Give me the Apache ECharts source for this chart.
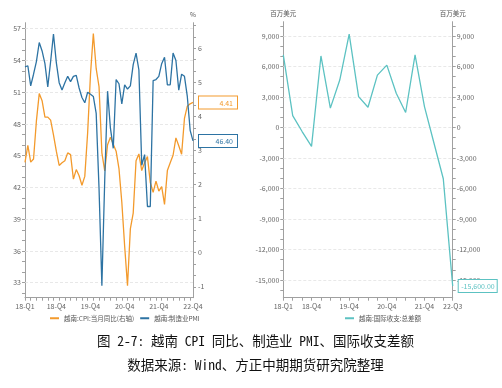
<!DOCTYPE html>
<html><head><meta charset="utf-8">
<script src="https://cdn.jsdelivr.net/npm/echarts@6/dist/echarts.min.js"></script>
<style>html,body{margin:0;padding:0;background:#fff}#c{width:502px;height:388px}</style>
</head><body><div id="c"></div>
<script>
// ---------- data ----------
const monthCats = [];
for (let y = 2018; y <= 2022; y++) for (let m = 1; m <= 12; m++) monthCats.push(y + '-' + String(m).padStart(2, '0'));
const leftTickIdx  = [0, 11, 23, 35, 47, 59];
const leftTickText = ['18-Q1', '18-Q4', '19-Q4', '20-Q4', '21-Q4', '22-Q4'];

const pmi = [53.4,53.5,51.6,52.7,53.9,55.7,54.9,53.7,51.5,53.9,56.5,53.8,
             51.9,51.2,51.9,52.5,52.0,52.5,52.6,51.4,50.5,50.0,51.0,50.8,
             50.6,49.0,41.9,32.7,42.7,51.1,47.6,45.7,52.2,51.8,49.9,51.7,
             51.3,51.6,53.6,54.7,53.1,44.1,45.1,40.2,40.2,52.1,52.2,52.5,
             53.7,54.3,51.7,51.7,54.7,54.0,51.2,52.7,52.5,50.6,47.4,46.4];
const cpi = [2.65,3.15,2.66,2.75,3.86,4.67,4.46,3.98,3.98,3.89,3.46,2.98,
             2.56,2.64,2.70,2.93,2.88,2.16,2.44,2.26,1.98,2.24,3.52,5.23,
             6.43,5.40,4.87,2.93,2.40,3.17,3.39,3.18,2.98,2.47,1.48,0.19,
             -0.97,0.70,1.16,2.70,2.90,2.41,2.64,2.82,2.06,1.77,2.10,1.81,
             1.94,1.42,2.41,2.64,2.86,3.37,3.14,2.89,3.94,4.30,4.37,4.41];

const quarterCats = ['18-Q1','18-Q2','18-Q3','18-Q4','19-Q1','19-Q2','19-Q3','19-Q4',
                     '20-Q1','20-Q2','20-Q3','20-Q4','21-Q1','21-Q2','21-Q3','21-Q4',
                     '22-Q1','22-Q2','22-Q3'];
const rightTickText = ['18-Q1', '18-Q4', '19-Q4', '20-Q4', '21-Q4', '22-Q3'];
const bop = [7130, 1170, -400, -1860, 7030, 1900, 4660, 9170, 3030, 1990,
             5150, 6130, 3360, 1470, 7130, 2050, -1500, -5040, -15600];

const pmiLabels = [33, 36, 39, 42, 45, 48, 51, 54, 57];
const cpiLabels = [-1, 0, 1, 2, 3, 4, 5, 6];
const bopLabels = [-15000, -12000, -9000, -6000, -3000, 0, 3000, 6000, 9000];

const names = ['越南:CPI:当月同比(右轴)', '越南:制造业PMI', '越南:国际收支:总差额'];
const captions = ['图 2-7: 越南 CPI 同比、制造业 PMI、国际收支差额', '数据来源: Wind、方正中期期货研究院整理'];

// ---------- helpers ----------
function subTicks(labels, parts, lo, hi) {
  const step = (labels[1] - labels[0]) / parts, out = [];
  for (let v = labels[0] - step * parts; v <= labels[labels.length - 1] + step * parts + 1e-9; v += step) {
    if (v >= lo - 1e-9 && v <= hi + 1e-9) out.push(+v.toFixed(6));
  }
  return out;
}
const ORANGE = '#f39a2c', BLUE = '#2d73a3', TEAL = '#5cc2c2';
const AX = '#a0a0a0', LBL = '#666';
const FONT = "'Noto Sans CJK SC', 'Noto Sans', sans-serif";
const CAPFONT = "'Noto Sans Mono CJK SC', 'Liberation Mono', 'Noto Sans CJK SC', monospace";

const PMI_MIN = 31.58, PMI_MAX = 57.57, CPI_MIN = -1.32, CPI_MAX = 6.75;
const BOP_MIN = -16740, BOP_MAX = 10400;

function yAx(grid, pos, min, max, labels, ticks, fmt, margin, name) {
  return {
    type: 'value', gridIndex: grid, position: pos, min: min, max: max,
    name: name || '', nameLocation: 'end', nameGap: 5,
    nameTextStyle: { fontSize: 6.5, color: '#555', fontFamily: FONT },
    axisLine: { show: true, onZero: false, lineStyle: { color: AX, width: 1 } },
    axisTick: { show: true, length: 3, customValues: ticks, lineStyle: { color: AX } },
    axisLabel: { customValues: labels, fontSize: 7, color: LBL, margin: margin, formatter: fmt, fontFamily: FONT },
    splitLine: { show: false }
  };
}
function gridLines(vals) {
  return {
    silent: true, symbol: ['none', 'none'], label: { show: false }, z: 1, animation: false,
    lineStyle: { type: [3, 2], color: '#e2e2e2', width: 0.8 },
    emphasis: { disabled: true },
    data: vals.map(v => ({ yAxis: v }))
  };
}
function endLab(color, fmt, w, pad) {
  return {
    show: true, distance: 6, padding: pad, backgroundColor: '#fff',
    borderColor: color, borderWidth: 1,
    formatter: p => '{v|' + fmt(p.value) + '}',
    rich: { v: { width: w, align: 'right', fontSize: 7, color: color, fontFamily: FONT, lineHeight: 9 } }
  };
}

const chart = echarts.init(document.getElementById('c'), null, { renderer: 'canvas' });
chart.setOption({
  backgroundColor: '#fff',
  animation: false,
  textStyle: { fontFamily: FONT },
  title: [
    { text: captions[0], left: 255.5, top: 334, textAlign: 'center', padding: 0,
      textStyle: { fontSize: 13.5, fontWeight: 'normal', color: '#111', fontFamily: CAPFONT } },
    { text: captions[1], left: 255.5, top: 358, textAlign: 'center', padding: 0,
      textStyle: { fontSize: 13.5, fontWeight: 'normal', color: '#111', fontFamily: CAPFONT } }
  ],
  legend: [
    { data: [names[0], names[1]], left: 50, top: 315, icon: 'rect', itemWidth: 9, itemHeight: 2,
      itemGap: 6, padding: 0, textStyle: { fontSize: 6.5, color: '#555', fontFamily: FONT } },
    { data: [names[2]], left: 345, top: 315, icon: 'rect', itemWidth: 9, itemHeight: 2,
      padding: 0, textStyle: { fontSize: 6.5, color: '#555', fontFamily: FONT } }
  ],
  grid: [
    { left: 25, right: 309, top: 22.7, bottom: 90.3, containLabel: false },
    { left: 283.3, right: 49.3, top: 21.7, bottom: 90.3, containLabel: false }
  ],
  xAxis: [
    { type: 'category', gridIndex: 0, data: monthCats, boundaryGap: false, position: 'bottom',
      axisLine: { onZero: false, lineStyle: { color: AX } },
      axisTick: { interval: 1, length: 3, lineStyle: { color: AX } },
      axisLabel: { interval: (i) => leftTickIdx.indexOf(i) >= 0,
                   formatter: (v, i) => leftTickText[leftTickIdx.indexOf(i)],
                   fontSize: 7, color: LBL, margin: 5, fontFamily: FONT } },
    { type: 'category', gridIndex: 1, data: quarterCats, boundaryGap: false, position: 'bottom',
      axisLine: { onZero: false, lineStyle: { color: AX } },
      axisTick: { interval: 0, length: 3, lineStyle: { color: AX } },
      axisLabel: { interval: (i, v) => rightTickText.indexOf(v) >= 0,
                   fontSize: 7, color: LBL, margin: 5, fontFamily: FONT } }
  ],
  yAxis: [
    yAx(0, 'left', PMI_MIN, PMI_MAX, pmiLabels, subTicks(pmiLabels, 3, PMI_MIN, PMI_MAX), v => String(v), 4),
    yAx(0, 'right', CPI_MIN, CPI_MAX, cpiLabels, subTicks(cpiLabels, 3, CPI_MIN, CPI_MAX), v => String(v), 5, '%'),
    yAx(1, 'left', BOP_MIN, BOP_MAX, bopLabels, subTicks(bopLabels, 3, BOP_MIN, BOP_MAX), v => v.toLocaleString('en-US'), 4, '百万美元'),
    yAx(1, 'right', BOP_MIN, BOP_MAX, bopLabels, subTicks(bopLabels, 3, BOP_MIN, BOP_MAX), v => v.toLocaleString('en-US'), 4, '百万美元')
  ],
  series: [
    { name: names[0], type: 'line', xAxisIndex: 0, yAxisIndex: 1, data: cpi, symbol: 'none', z: 3,
      lineStyle: { width: 1.3, color: ORANGE }, itemStyle: { color: ORANGE },
      endLabel: endLab(ORANGE, v => v.toFixed(2), 31, [2, 4, 1, 3]) },
    { name: names[1], type: 'line', xAxisIndex: 0, yAxisIndex: 0, data: pmi, symbol: 'none', z: 3,
      lineStyle: { width: 1.3, color: BLUE }, itemStyle: { color: BLUE },
      endLabel: endLab(BLUE, v => v.toFixed(2), 31, [2, 4, 1, 3]),
      markLine: gridLines(pmiLabels) },
    { name: names[2], type: 'line', xAxisIndex: 1, yAxisIndex: 2, data: bop, symbol: 'none', z: 3,
      lineStyle: { width: 1.3, color: TEAL }, itemStyle: { color: TEAL },
      endLabel: endLab(TEAL, v => v.toLocaleString('en-US', { minimumFractionDigits: 2, maximumFractionDigits: 2 }), 33, [2, 2, 1, 3]),
      markLine: gridLines(bopLabels) }
  ]
});
</script></body></html>
